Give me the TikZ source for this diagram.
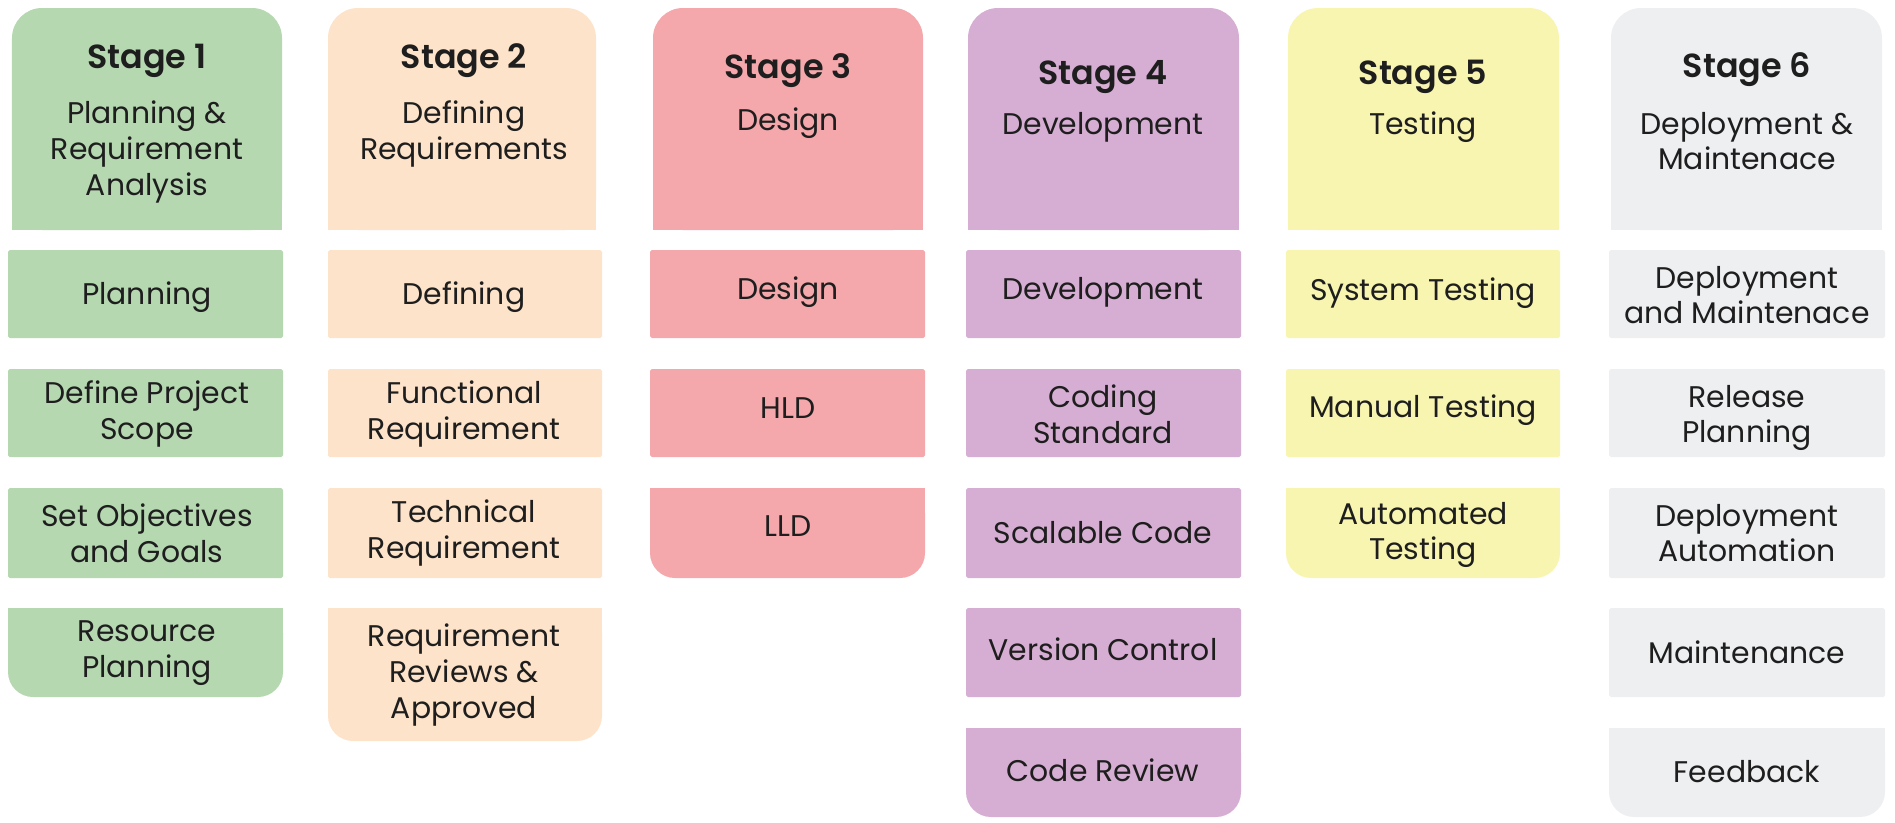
\documentclass[tikz,border=0pt]{standalone}
\usepackage{fontspec}
\setmainfont{Poppins}[BoldFont={Poppins SemiBold}]
\definecolor{plangreen}{HTML}{B6D8B1}
\definecolor{defpeach}{HTML}{FDE3C9}
\definecolor{designpink}{HTML}{F4A8AC}
\definecolor{devmauve}{HTML}{D7AED3}
\definecolor{testyellow}{HTML}{F8F5B0}
\definecolor{deploygrey}{HTML}{EEEFF1}
\definecolor{ink}{HTML}{1E1E1E}
\tikzset{
  stagetitle/.style={font=\bfseries\fontsize{9.5}{11}\selectfont, text=ink},
  stagesub/.style={font=\fontsize{8.5}{10.2}\selectfont, align=center, text=ink},
  item/.style={font=\fontsize{8.5}{10.2}\selectfont, align=center, text=ink}
}
\begin{document}
\begin{tikzpicture}
\useasboundingbox (0,0) rectangle (18.95,-8.22);

% Stage 1
\fill[plangreen,rounded corners=3mm] (0.12,-0.08) rectangle (2.82,-2.30);
\fill[plangreen] (0.12,-1.00) rectangle (2.82,-2.30);
\fill[plangreen,rounded corners=0.5pt] (0.08,-2.50) rectangle (2.83,-3.38);
\fill[plangreen,rounded corners=0.5pt] (0.08,-3.69) rectangle (2.83,-4.57);
\fill[plangreen,rounded corners=0.5pt] (0.08,-4.88) rectangle (2.83,-5.78);
\fill[plangreen,rounded corners=2.5mm] (0.08,-6.08) rectangle (2.83,-6.97);
\fill[plangreen] (0.08,-6.08) rectangle (2.83,-6.50);
\node[stagetitle] (st1) at (1.47,-0.61) {Stage 1};
\node[stagesub] (sub1) at (1.47,-1.52) {Planning \&\\Requirement\\Analysis};
\node[item] (plan) at (1.47,-2.97) {Planning};
\node[item] (scope) at (1.47,-4.14) {Define Project\\Scope};
\node[item] (goals) at (1.47,-5.33) {Set Objectives\\and Goals};
\node[item] (resplan) at (1.47,-6.53) {Resource\\Planning};

% Stage 2
\fill[defpeach,rounded corners=3mm] (3.28,-0.08) rectangle (5.96,-2.30);
\fill[defpeach] (3.28,-1.00) rectangle (5.96,-2.30);
\fill[defpeach,rounded corners=0.5pt] (3.28,-2.50) rectangle (6.02,-3.38);
\fill[defpeach,rounded corners=0.5pt] (3.28,-3.69) rectangle (6.02,-4.57);
\fill[defpeach,rounded corners=0.5pt] (3.28,-4.88) rectangle (6.02,-5.78);
\fill[defpeach,rounded corners=2.5mm] (3.28,-6.08) rectangle (6.02,-7.41);
\fill[defpeach] (3.28,-6.08) rectangle (6.02,-6.80);
\node[stagetitle] (st2) at (4.64,-0.61) {Stage 2};
\node[stagesub] (sub2) at (4.64,-1.34) {Defining\\Requirements};
\node[item] (defining) at (4.64,-2.97) {Defining};
\node[item] (funcreq) at (4.64,-4.14) {Functional\\Requirement};
\node[item] (techreq) at (4.64,-5.33) {Technical\\Requirement};
\node[item] (reviews) at (4.64,-6.75) {Requirement\\Reviews \&\\Approved};

% Stage 3
\fill[designpink,rounded corners=3mm] (6.53,-0.08) rectangle (9.23,-2.30);
\fill[designpink] (6.53,-1.00) rectangle (9.23,-2.30);
\fill[designpink,rounded corners=0.5pt] (6.50,-2.50) rectangle (9.25,-3.38);
\fill[designpink,rounded corners=0.5pt] (6.50,-3.69) rectangle (9.25,-4.57);
\fill[designpink,rounded corners=2.5mm] (6.50,-4.88) rectangle (9.25,-5.78);
\fill[designpink] (6.50,-4.88) rectangle (9.25,-5.30);
\node[stagetitle] (st3) at (7.88,-0.71) {Stage 3};
\node[stagesub] (sub3) at (7.88,-1.23) {Design};
\node[item] (design) at (7.88,-2.92) {Design};
\node[item] (hld) at (7.88,-4.08) {HLD};
\node[item] (lld) at (7.88,-5.26) {LLD};

% Stage 4
\fill[devmauve,rounded corners=3mm] (9.68,-0.08) rectangle (12.39,-2.30);
\fill[devmauve] (9.68,-1.00) rectangle (12.39,-2.30);
\fill[devmauve,rounded corners=0.5pt] (9.66,-2.50) rectangle (12.41,-3.38);
\fill[devmauve,rounded corners=0.5pt] (9.66,-3.69) rectangle (12.41,-4.57);
\fill[devmauve,rounded corners=0.5pt] (9.66,-4.88) rectangle (12.41,-5.78);
\fill[devmauve,rounded corners=0.5pt] (9.66,-6.08) rectangle (12.41,-6.97);
\fill[devmauve,rounded corners=2.5mm] (9.66,-7.28) rectangle (12.41,-8.17);
\fill[devmauve] (9.66,-7.28) rectangle (12.41,-7.70);
\node[stagetitle] (st4) at (11.03,-0.77) {Stage 4};
\node[stagesub] (sub4) at (11.03,-1.27) {Development};
\node[item] (develop) at (11.03,-2.92) {Development};
\node[item] (coding) at (11.03,-4.14) {Coding\\Standard};
\node[item] (scalable) at (11.03,-5.33) {Scalable Code};
\node[item] (version) at (11.03,-6.49) {Version Control};
\node[item] (codereview) at (11.03,-7.70) {Code Review};

% Stage 5
\fill[testyellow,rounded corners=3mm] (12.88,-0.08) rectangle (15.59,-2.30);
\fill[testyellow] (12.88,-1.00) rectangle (15.59,-2.30);
\fill[testyellow,rounded corners=0.5pt] (12.86,-2.50) rectangle (15.60,-3.38);
\fill[testyellow,rounded corners=0.5pt] (12.86,-3.69) rectangle (15.60,-4.57);
\fill[testyellow,rounded corners=2.5mm] (12.86,-4.88) rectangle (15.60,-5.78);
\fill[testyellow] (12.86,-4.88) rectangle (15.60,-5.30);
\node[stagetitle] (st5) at (14.23,-0.77) {Stage 5};
\node[stagesub] (sub5) at (14.23,-1.27) {Testing};
\node[item] (systest) at (14.23,-2.93) {System Testing};
\node[item] (mantest) at (14.23,-4.10) {Manual Testing};
\node[item] (autotest) at (14.23,-5.35) {Automated\\Testing};

% Stage 6
\fill[deploygrey,rounded corners=3mm] (16.11,-0.08) rectangle (18.82,-2.30);
\fill[deploygrey] (16.11,-1.00) rectangle (18.82,-2.30);
\fill[deploygrey,rounded corners=0.5pt] (16.09,-2.50) rectangle (18.85,-3.38);
\fill[deploygrey,rounded corners=0.5pt] (16.09,-3.69) rectangle (18.85,-4.57);
\fill[deploygrey,rounded corners=0.5pt] (16.09,-4.88) rectangle (18.85,-5.78);
\fill[deploygrey,rounded corners=0.5pt] (16.09,-6.08) rectangle (18.85,-6.97);
\fill[deploygrey,rounded corners=2.5mm] (16.09,-7.28) rectangle (18.85,-8.17);
\fill[deploygrey] (16.09,-7.28) rectangle (18.85,-7.70);
\node[stagetitle] (st6) at (17.47,-0.70) {Stage 6};
\node[stagesub] (sub6) at (17.47,-1.41) {Deployment \&\\Maintenace};
\node[item] (depmaint) at (17.47,-2.95) {Deployment\\and Maintenace};
\node[item] (release) at (17.47,-4.18) {Release\\Planning};
\node[item] (depauto) at (17.47,-5.33) {Deployment\\Automation};
\node[item] (maint) at (17.47,-6.52) {Maintenance};
\node[item] (feedback) at (17.47,-7.72) {Feedback};
\end{tikzpicture}
\end{document}
